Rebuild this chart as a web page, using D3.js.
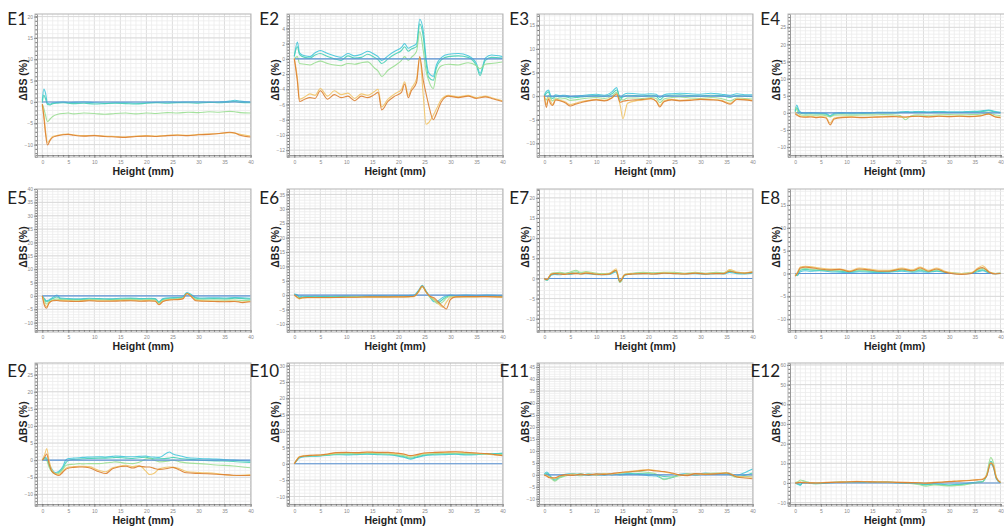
<!DOCTYPE html>
<html>
<head>
<meta charset="utf-8">
<script src="https://cdn.jsdelivr.net/npm/d3@7"></script>
<style>
    body { margin: 0; background: #fff; }
    svg { display: block; }
    .axis text { font-family: 'Liberation Sans', Arial, sans-serif; font-size: 5px; fill: #8a8a8a; }
    .axis line { stroke: #777; }
    .axis path { stroke: #999; }
    .title { font-family: Lato, 'Open Sans', sans-serif; font-size: 17px; fill: #222; }
    .label { font-family: 'Liberation Sans', Arial, sans-serif; font-size: 10.5px; font-weight: bold; fill: #222; }
</style>
</head>
<body>
<svg id="chart" width="1004" height="528"></svg>
<script>
const panelNames = ['E1', 'E2', 'E3', 'E4', 'E5', 'E6', 'E7', 'E8', 'E9', 'E10', 'E11', 'E12'];
const xTicks = [0, 5, 10, 15, 20, 25, 30, 35, 40];
const xDomain = [-1.4, 40.1];
const yTicks = [
    [-10, -5, 0, 5, 10, 15, 20],
    [-12, -10, -8, -6, -4, -2, 0, 2, 4],
    [-10, -5, 0, 5, 10, 15],
    [-10, -5, 0, 5, 10, 15, 20, 25],
    [-10, -5, 0, 5, 10, 15, 20, 25, 30, 35, 40],
    [-10, -5, 0, 5, 10, 15, 20, 25, 30, 35],
    [-10, -5, 0, 5, 10, 15, 20],
    [-10, -5, 0, 5, 10, 15],
    [-10, -5, 0, 5, 10, 15, 20, 25],
    [-10, -5, 0, 5, 10, 15, 20, 25, 30],
    [-10, -5, 0, 5, 10, 15, 20, 25, 30, 35, 40, 45],
    [-10, 0, 10, 20, 30, 40, 50, 60]
];
const yDomains = [
    [-12.9, 20.6], [-12.9, 5.9], [-12.9, 17.4], [-12.9, 28.9],
    [-13.5, 40], [-12.8, 36.9], [-13.3, 22.2], [-12.8, 18.5],
    [-13.4, 28.4], [-12.9, 30.8], [-13, 46.7], [-11.7, 61]
];

// reference scan, ΔBS = 0
const baseX = [0, 40];
const baseY = [0, 0];

// E1
const e1X = [0, 0.3, 0.6, 1, 1.5, 2, 3, 4, 5, 6, 8, 10, 12, 14, 16, 18, 20, 22, 24, 26, 28, 30, 32, 34, 36, 37, 38, 40];
const e1Cyan = [0.3, 3.0, 2.2, -0.3, -0.5, -0.2, -0.1, 0.0, -0.2, -0.1, 0.0, -0.2, -0.3, -0.2, -0.2, -0.3, -0.2, -0.1, 0.0, -0.1, 0.0, 0.0, -0.1, 0.0, 0.2, 0.4, 0.2, 0.0];
const e1Teal = [-0.2, 1.6, 0.8, -0.6, -0.7, -0.4, -0.3, -0.2, -0.3, -0.4, -0.3, -0.5, -0.4, -0.3, -0.4, -0.5, -0.3, -0.2, -0.3, -0.2, -0.2, -0.3, -0.1, -0.2, 0.0, 0.1, -0.1, -0.2];
const e1Green = [-0.5, -1.5, -3.0, -4.6, -4.0, -3.4, -2.9, -2.7, -2.6, -2.8, -2.6, -2.7, -2.9, -2.7, -2.6, -2.8, -2.6, -2.7, -2.5, -2.6, -2.4, -2.5, -2.3, -2.4, -2.2, -2.3, -2.5, -2.6];
const e1Yellow = [-0.8, -3.0, -6.5, -9.5, -8.8, -8.1, -7.8, -7.6, -7.5, -7.7, -7.9, -7.8, -8.0, -8.1, -8.2, -8.0, -7.9, -8.0, -7.8, -7.7, -7.8, -7.6, -7.5, -7.4, -7.2, -7.3, -7.6, -8.0];
const e1Orange = [-0.5, -3.5, -7.2, -10.1, -9.0, -8.3, -7.9, -7.7, -7.6, -7.8, -8.0, -7.9, -8.1, -8.2, -8.3, -8.1, -8.0, -8.1, -7.9, -7.8, -7.9, -7.7, -7.6, -7.4, -7.1, -7.3, -7.8, -8.2];

// E2
const e2X = [0, 0.6, 1, 2, 3, 4, 5, 6.4, 7.7, 9, 10.3, 11.6, 12.9, 14.1, 15.4, 16.1, 16.8, 18, 19.3, 20.6, 21.2, 21.9, 22.5, 23.5, 24.1, 24.8, 25.3, 25.8, 26.7, 27.3, 28.3, 29.6, 31.5, 33.4, 35, 35.7, 36.7, 37.9, 40];
const e2Cyan = [0.3, 2.2, 0.8, 0.4, 0.3, 0.8, 1.1, 0.7, 0.4, 0.2, 0.7, 0.4, 0.6, 1.0, 0.6, 0.3, -0.2, 0.4, 1.0, 1.5, 2.0, 1.4, 1.6, 2.0, 5.2, 3.6, 0.2, -1.8, -2.3, -0.8, 0.2, 0.6, 0.7, 0.4, -0.6, -1.9, 0.1, 0.5, 0.3];
const e2Teal = [0.4, 1.6, 0.6, 0.2, 0.1, 0.5, 0.7, 0.3, 0.0, -0.2, 0.4, 0.1, 0.2, 0.6, 0.2, -0.1, -0.6, 0.0, 0.6, 1.1, 1.6, 1.0, 1.3, 1.6, 4.6, 2.8, -0.4, -2.4, -2.8, -1.2, -0.1, 0.3, 0.4, 0.2, -0.9, -2.2, -0.2, 0.2, 0.1];
const e2Green = [0.0, 0.3, -0.6, -0.7, -0.8, -0.5, -0.3, -0.6, -0.8, -0.9, -0.6, -0.7, -0.5, -0.4, -1.2, -1.6, -2.3, -1.5, -0.9, -0.2, 0.3, -0.2, 0.2, 1.0, 3.6, 1.0, -1.5, -2.8, -3.9, -2.0, -0.9, -0.7, -0.8, -0.5, -0.9, -1.3, -0.7, -0.6, -0.4];
const e2Yellow = [0.1, -2.5, -5.3, -5.0, -4.6, -4.8, -3.9, -4.9, -4.2, -4.7, -4.5, -5.2, -4.6, -4.8, -4.3, -4.0, -6.3, -5.3, -4.6, -4.0, -3.0, -4.8, -3.9, -2.6, 0.2, -5.0, -8.6, -8.4, -7.4, -6.6, -5.3, -4.8, -5.0, -4.8, -5.1, -5.0, -4.9, -5.1, -5.5];
const e2Orange = [0.0, -3.0, -5.6, -5.3, -5.1, -5.2, -4.2, -5.3, -4.7, -5.1, -4.9, -5.5, -4.9, -5.1, -4.7, -4.4, -6.7, -5.6, -4.9, -4.4, -3.3, -5.1, -4.2, -3.1, 0.3, -2.9, -4.5, -6.0, -8.0, -7.2, -5.6, -4.9, -5.1, -4.9, -5.2, -5.1, -5.0, -5.2, -5.6];

// E3
const e3X = [0, 0.4, 0.8, 1.2, 1.6, 2.2, 3, 4, 5, 6, 7, 8.5, 10, 11.5, 13, 13.9, 14.6, 15.1, 16, 17.5, 19, 20.5, 21.5, 22.2, 23, 24.5, 26, 28, 30, 32, 34, 35.7, 37, 38.5, 40];
const e3Cyan = [0.2, 1.0, 1.3, 0.2, -0.2, 0.3, 0.1, 0.2, -0.1, 0.0, 0.1, 0.3, 0.4, 0.2, 0.9, 1.8, -0.9, 0.2, 0.6, 0.5, 0.4, 0.5, 0.4, -0.3, 0.3, 0.5, 0.6, 0.5, 0.4, 0.6, 0.4, 0.2, 0.5, 0.3, 0.3];
const e3Teal = [0.0, 0.6, 0.9, -0.2, -0.5, 0.0, -0.2, -0.1, -0.4, -0.3, -0.2, 0.0, 0.1, -0.1, 0.5, 1.3, -0.3, -0.2, 0.2, 0.1, 0.0, 0.2, 0.0, -0.8, -0.1, 0.2, 0.3, 0.1, 0.0, 0.2, 0.1, -0.3, 0.1, 0.0, -0.1];
const e3Green = [-0.1, -0.8, 0.2, -0.5, -1.0, -0.4, -0.6, -0.5, -0.9, -0.8, -0.6, -0.4, -0.3, -0.5, 0.0, 0.8, -0.6, -0.8, -0.4, -0.4, -0.5, -0.3, -0.5, -1.4, -0.6, -0.3, -0.2, -0.4, -0.5, -0.3, -0.5, -1.0, -0.4, -0.5, -0.6];
const e3Yellow = [0.0, -1.8, -0.3, -1.0, -1.8, -0.6, -0.9, -1.2, -1.8, -1.5, -1.2, -0.9, -0.7, -0.9, -0.3, 0.3, -2.0, -4.8, -1.5, -1.0, -0.8, -0.6, -1.0, -2.0, -1.0, -0.7, -0.9, -0.8, -0.6, -0.7, -0.9, -1.5, -0.6, -0.7, -0.9];
const e3Orange = [0.1, -2.4, -0.6, -1.6, -2.0, -0.8, -1.0, -1.4, -2.1, -1.7, -1.4, -1.0, -0.8, -1.0, -0.4, 0.5, -1.3, -1.1, -0.9, -0.8, -0.7, -0.5, -1.1, -2.3, -1.2, -0.8, -1.0, -0.9, -0.7, -0.8, -1.0, -1.7, -0.7, -0.8, -1.0];

// E4
const e4X = [0, 0.3, 0.7, 1.2, 2, 3, 4, 5, 6, 6.8, 7.6, 9, 11, 13, 15, 17, 19, 20.5, 21.5, 22.5, 24, 26, 28, 30, 32, 34, 36, 37.7, 39, 40];
const e4Cyan = [0.6, 2.3, 0.8, 0.1, 0.0, 0.1, 0.0, -0.1, -0.2, -0.8, -0.1, 0.1, 0.0, 0.1, 0.1, 0.2, 0.2, 0.3, 0.4, 0.3, 0.4, 0.3, 0.4, 0.3, 0.3, 0.4, 0.5, 0.8, 0.4, 0.2];
const e4Teal = [0.3, 1.5, 0.4, -0.2, -0.3, -0.2, -0.3, -0.3, -0.4, -1.1, -0.4, -0.2, -0.3, -0.2, -0.1, 0.0, 0.0, 0.1, 0.2, 0.1, 0.2, 0.1, 0.2, 0.1, 0.1, 0.2, 0.3, 0.6, 0.2, 0.0];
const e4Green = [1.5, 1.0, -0.3, -0.6, -0.7, -0.6, -0.7, -0.6, -0.8, -1.2, -0.7, -0.6, -0.7, -0.6, -0.6, -0.5, -0.6, -0.8, -2.0, -0.9, -0.6, -0.7, -0.6, -0.5, -0.6, -0.5, -0.4, 0.0, -0.6, -0.8];
const e4Yellow = [0.2, -0.3, -0.8, -1.0, -1.1, -1.0, -1.2, -1.1, -1.3, -3.0, -1.5, -1.2, -1.1, -1.3, -1.2, -1.1, -1.0, -1.1, -1.3, -1.0, -1.0, -1.1, -0.9, -1.0, -0.9, -1.0, -0.8, -0.4, -1.1, -1.2];
const e4Orange = [-0.3, -0.6, -1.0, -1.2, -1.3, -1.2, -1.4, -1.3, -1.5, -3.5, -1.8, -1.4, -1.3, -1.4, -1.3, -1.2, -1.1, -1.2, -1.2, -1.1, -1.0, -1.2, -1.0, -1.1, -1.0, -1.1, -0.9, -0.3, -1.2, -1.4];

// E5
const e5X = [0, 0.4, 0.8, 1.3, 2, 2.8, 3.5, 5, 7, 9, 11, 13, 15, 17, 19, 20.5, 21.7, 22.4, 23.2, 24.5, 26, 27, 27.8, 28.7, 29.5, 31, 33, 35, 37, 38.5, 40];
const e5Cyan = [0.0, -1.0, -1.8, -1.5, -0.6, 0.3, -0.8, -1.0, -1.1, -0.9, -1.0, -1.1, -0.9, -0.8, -1.0, -0.9, -1.0, -2.2, -1.0, -0.7, -0.6, -0.3, 1.3, 0.4, -0.6, -0.8, -0.7, -0.8, -0.6, -0.7, -0.9];
const e5Teal = [0.0, -1.3, -2.2, -1.8, -1.0, -0.4, -1.1, -1.3, -1.4, -1.2, -1.2, -1.3, -1.2, -1.0, -1.2, -1.1, -1.2, -2.5, -1.3, -0.9, -0.8, -0.5, 1.0, 0.1, -0.9, -1.1, -1.0, -1.1, -0.9, -1.0, -1.2];
const e5Green = [0.0, -1.8, -3.0, -2.2, -1.5, -1.2, -1.4, -1.5, -1.6, -1.4, -1.5, -1.6, -1.4, -1.3, -1.5, -1.4, -1.5, -2.8, -1.6, -1.2, -1.1, -0.8, 0.9, -0.1, -1.3, -1.5, -1.5, -1.6, -1.5, -1.7, -1.6];
const e5Yellow = [0.0, -2.8, -4.0, -2.5, -1.7, -1.6, -1.7, -1.8, -1.9, -1.6, -1.8, -1.8, -1.7, -1.6, -1.8, -1.7, -1.8, -3.1, -1.9, -1.4, -1.3, -1.0, 0.8, -0.3, -1.6, -1.8, -1.9, -2.0, -1.9, -2.3, -2.0];
const e5Orange = [0.0, -3.5, -4.6, -2.7, -1.8, -1.7, -1.9, -2.0, -2.1, -1.8, -2.0, -2.0, -1.9, -1.8, -2.0, -1.9, -2.0, -3.3, -2.1, -1.5, -1.4, -1.1, 0.9, -0.4, -1.8, -2.0, -2.1, -2.2, -2.1, -2.5, -2.2];

// E6
const e6X = [0, 0.5, 1, 1.5, 2.5, 4, 6, 8, 10, 12, 14, 16, 18, 20, 22, 23, 23.8, 24.6, 25.3, 26, 26.9, 27.6, 28.5, 29.2, 30, 31, 33, 35, 37, 40];
const e6Cyan = [0.4, 0.2, -0.6, -0.4, -0.5, -0.4, -0.5, -0.4, -0.3, -0.4, -0.3, -0.2, -0.3, -0.2, -0.1, 0.0, 1.5, 3.4, 1.5, -0.5, -2.3, -2.0, -0.8, -0.3, 0.0, -0.1, 0.0, -0.1, 0.0, -0.2];
const e6Teal = [0.3, 0.0, -0.8, -0.7, -0.6, -0.6, -0.6, -0.5, -0.5, -0.5, -0.4, -0.4, -0.4, -0.3, -0.3, -0.2, 1.2, 3.0, 1.3, -0.4, -1.6, -2.6, -1.5, -0.6, -0.2, -0.3, -0.2, -0.3, -0.2, -0.3];
const e6Green = [0.2, -0.5, -1.2, -0.9, -0.8, -0.8, -0.8, -0.7, -0.7, -0.6, -0.6, -0.6, -0.6, -0.5, -0.5, -0.4, 1.0, 2.9, 1.2, -0.6, -2.0, -3.0, -2.4, -1.0, -0.5, -0.6, -0.5, -0.5, -0.4, -0.6];
const e6Yellow = [0.0, -0.8, -1.3, -1.0, -0.9, -0.9, -0.9, -0.8, -0.8, -0.7, -0.7, -0.7, -0.7, -0.6, -0.6, -0.5, 0.9, 3.0, 1.1, -0.3, -1.5, -2.8, -4.2, -2.5, -0.7, -0.6, -0.6, -0.6, -0.5, -0.7];
const e6Orange = [0.1, -0.6, -1.1, -0.9, -0.8, -0.8, -0.8, -0.8, -0.7, -0.7, -0.6, -0.6, -0.6, -0.6, -0.5, -0.4, 1.1, 3.2, 1.2, -0.3, -1.0, -2.2, -3.8, -4.8, -1.5, -0.6, -0.5, -0.5, -0.5, -0.6];

// E7
const e7X = [0, 0.3, 0.6, 1.3, 2, 3, 4, 5, 6.1, 7, 8, 9.5, 11, 12.5, 13.8, 14.5, 15.5, 17, 19, 21, 23, 25, 27, 29, 31, 33, 34.5, 35.6, 37, 38.5, 40];
const e7Cyan = [0.0, -0.2, -0.5, 0.8, 1.0, 0.9, 1.1, 1.0, 1.3, 1.1, 1.2, 1.0, 0.9, 1.0, 1.6, -0.6, 0.8, 1.1, 1.2, 1.1, 1.3, 1.2, 1.1, 1.2, 1.0, 1.2, 1.1, 1.5, 1.2, 1.1, 1.3];
const e7Teal = [0.0, -0.4, -0.3, 1.0, 1.2, 1.3, 1.2, 1.4, 1.6, 1.3, 1.5, 1.2, 1.1, 1.2, 1.9, -0.9, 0.9, 1.2, 1.4, 1.3, 1.4, 1.4, 1.2, 1.4, 1.2, 1.4, 1.3, 1.8, 1.4, 1.3, 1.5];
const e7Green = [0.0, -0.3, -0.4, 1.2, 1.4, 1.5, 1.3, 1.6, 2.0, 1.5, 1.7, 1.4, 1.2, 1.3, 2.0, -1.0, 1.0, 1.3, 1.5, 1.4, 1.5, 1.5, 1.3, 1.5, 1.3, 1.5, 1.4, 2.0, 1.5, 1.4, 1.6];
const e7Yellow = [0.0, -0.2, -0.1, 1.1, 1.3, 1.2, 1.1, 1.3, 1.4, 1.2, 1.5, 1.2, 1.0, 1.2, 2.4, -0.4, 1.0, 1.2, 1.3, 1.2, 1.4, 1.3, 1.2, 1.4, 1.2, 1.3, 1.3, 2.2, 1.6, 1.4, 1.7];
const e7Orange = [0.0, -0.3, -0.2, 1.0, 1.2, 1.1, 1.0, 1.2, 1.2, 1.1, 1.3, 1.1, 0.9, 1.1, 2.0, -0.8, 0.9, 1.1, 1.2, 1.1, 1.3, 1.2, 1.1, 1.3, 1.1, 1.2, 1.2, 1.8, 1.4, 1.3, 1.5];

// E8
const e8X = [0, 0.4, 1, 2, 2.9, 4.8, 6.7, 8.7, 10.6, 12.5, 14.4, 16.3, 18.3, 20.8, 22.8, 24.4, 26, 27.6, 29.2, 30.4, 32.4, 34.3, 35.6, 36.5, 37.8, 39, 40];
const e8Cyan = [-0.3, -0.5, 0.4, 0.6, 0.5, 0.6, 0.4, 0.3, 0.2, 0.4, 0.3, 0.2, 0.3, 0.5, 0.3, 0.4, 0.3, 0.5, 0.2, 0.0, -0.1, 0.0, 0.4, 0.6, 0.1, -0.1, 0.0];
const e8Teal = [-0.2, -0.3, 0.7, 0.9, 0.8, 0.7, 0.6, 0.5, 0.4, 0.6, 0.5, 0.4, 0.4, 0.7, 0.5, 0.7, 0.4, 0.6, 0.3, 0.1, 0.0, 0.1, 0.6, 0.8, 0.2, 0.0, 0.1];
const e8Green = [-0.4, -0.2, 1.0, 1.1, 1.0, 0.9, 0.7, 0.7, 0.5, 0.8, 0.6, 0.5, 0.6, 0.9, 0.6, 0.9, 0.5, 0.8, 0.4, 0.1, 0.0, 0.1, 0.8, 1.1, 0.3, 0.0, 0.0];
const e8Yellow = [-0.5, 0.2, 1.4, 1.6, 1.5, 1.2, 1.0, 1.0, 0.6, 1.2, 1.0, 0.7, 0.7, 1.2, 0.8, 1.4, 0.7, 1.2, 0.5, 0.2, 0.0, 0.2, 1.2, 1.7, 0.4, 0.0, 0.1];
const e8Orange = [-0.6, 0.0, 1.2, 1.4, 1.3, 1.0, 0.8, 0.9, 0.4, 1.0, 0.8, 0.5, 0.5, 1.0, 0.6, 1.2, 0.5, 1.0, 0.3, 0.0, -0.2, 0.0, 1.0, 1.3, 0.3, -0.1, 0.0];

// E9
const e9X = [0, 0.5, 0.85, 1.3, 1.8, 2.5, 3.2, 3.9, 4.5, 5.1, 6, 7.1, 7.7, 9, 10.9, 12.2, 13.5, 14.1, 16.1, 17.4, 18.6, 19.9, 20.6, 21.5, 22.5, 24.4, 25.1, 26.4, 27.7, 30.2, 33.4, 36.7, 40];
const e9Cyan = [0.0, 0.8, 0.5, -1.0, -2.5, -3.6, -3.2, -2.0, 0.0, 0.5, 0.6, 0.7, 0.8, 0.9, 1.0, 0.9, 1.1, 1.2, 1.0, 1.0, 1.1, 1.2, 1.0, 0.9, 0.8, 2.4, 1.8, 1.3, 0.8, 0.5, 0.3, 0.0, -0.3];
const e9Teal = [0.0, 0.5, 0.2, -1.5, -3.0, -3.9, -3.5, -2.5, -0.8, 0.0, 0.2, 0.3, 0.4, 0.5, 0.6, 0.6, 0.7, 0.8, 0.6, 0.5, 0.7, 0.9, 0.6, 0.4, 0.4, 0.6, 0.8, 0.5, 0.3, 0.0, -0.2, -0.4, -0.7];
const e9Green = [0.0, 0.4, 0.0, -2.0, -3.3, -4.0, -3.8, -2.8, -1.6, -1.3, -1.2, -1.0, -1.1, -1.0, -1.0, -0.8, -0.6, -0.5, -0.9, -1.0, -0.6, 0.3, 0.5, 0.0, -0.5, -0.2, 0.0, -0.5, -0.8, -1.0, -1.4, -1.7, -2.2];
const e9Yellow = [0.0, 1.8, 3.4, 0.0, -2.8, -3.9, -4.2, -3.3, -2.4, -2.0, -1.9, -1.8, -1.8, -1.9, -3.0, -3.4, -2.2, -2.0, -1.5, -1.9, -1.6, -3.2, -4.2, -3.8, -2.5, -2.0, -2.1, -2.5, -3.3, -3.6, -3.9, -4.5, -4.2];
const e9Orange = [0.0, 1.0, 1.8, -1.0, -3.2, -4.1, -4.5, -3.6, -2.7, -2.3, -2.1, -2.0, -2.0, -2.2, -3.4, -3.9, -2.5, -2.2, -1.8, -2.3, -1.8, -2.0, -2.0, -2.4, -2.7, -2.3, -2.1, -2.9, -3.7, -3.9, -4.1, -4.4, -4.5];

// E10
const e10X = [0, 0.5, 1, 2, 3.5, 5, 6.5, 8, 10, 12, 14, 16, 18, 19.5, 21, 22.3, 23.5, 25, 27, 29, 31, 33, 35, 37, 38.5, 40];
const e10Cyan = [0.0, 1.0, 1.8, 2.2, 2.3, 2.4, 2.6, 2.8, 2.7, 2.8, 2.9, 2.8, 2.7, 2.5, 2.0, 1.4, 1.9, 2.5, 2.7, 2.8, 2.9, 2.7, 2.8, 3.0, 3.1, 3.3];
const e10Teal = [0.0, 1.1, 2.0, 2.3, 2.4, 2.5, 2.7, 2.9, 2.9, 3.0, 3.1, 3.0, 2.9, 2.7, 2.2, 1.7, 2.1, 2.7, 2.9, 3.0, 3.1, 2.9, 3.0, 3.1, 3.0, 3.1];
const e10Green = [0.0, 1.2, 2.1, 2.4, 2.5, 2.6, 2.8, 3.0, 3.1, 3.1, 3.2, 3.1, 3.0, 2.8, 2.5, 2.0, 2.4, 2.9, 3.1, 3.2, 3.2, 3.1, 3.0, 2.9, 2.8, 2.8];
const e10Yellow = [0.0, 1.3, 2.2, 2.5, 2.6, 2.7, 3.0, 3.3, 3.4, 3.3, 3.5, 3.4, 3.3, 3.1, 2.9, 2.4, 2.7, 3.2, 3.4, 3.5, 3.6, 3.4, 3.2, 3.0, 2.8, 2.6];
const e10Orange = [0.0, 1.2, 2.1, 2.4, 2.6, 2.7, 3.0, 3.4, 3.5, 3.4, 3.6, 3.5, 3.5, 3.3, 3.0, 2.5, 2.8, 3.3, 3.5, 3.6, 3.7, 3.5, 3.3, 3.1, 2.8, 2.5];

// E11
const e11X = [0, 0.5, 1, 2, 3, 4, 5.5, 7, 8.5, 10, 11.5, 13, 14.5, 16.5, 18, 20, 21.5, 23, 24.5, 26, 27.5, 29, 31, 33, 35, 37, 38.5, 40];
const e11Cyan = [0.3, 1.2, 0.0, -2.3, -0.8, 0.2, 0.5, -0.2, 0.4, 0.1, 0.5, 0.0, 0.3, 0.6, 0.2, -0.3, -0.5, -1.8, -1.2, 0.2, 0.5, 0.0, 0.8, 0.3, 0.9, -0.2, 0.9, 2.4];
const e11Teal = [0.0, 0.6, -0.5, -1.8, -1.0, -0.3, 0.1, 0.4, -0.2, 0.3, -0.1, 0.4, 0.0, 0.3, 0.5, 0.4, 0.1, -0.7, -0.9, -0.1, 0.2, 0.4, 0.1, 0.5, 0.4, -0.6, -0.2, 0.8];
const e11Green = [-0.2, 0.2, -0.8, -2.6, -1.2, -0.5, 0.2, -0.4, 0.3, -0.2, 0.4, 0.1, 0.6, 1.2, 1.4, 1.0, 0.4, -2.0, -1.0, -0.4, 0.3, -0.2, 0.6, 0.8, 0.5, -1.0, -0.8, -0.5];
const e11Yellow = [0.0, -0.4, -1.0, -1.5, -0.6, -0.2, 0.3, -0.1, 0.2, 0.0, 0.5, 0.4, 0.9, 1.5, 1.8, 2.2, 1.8, 1.2, 0.6, -0.2, 0.3, 0.4, 0.2, 0.6, 1.0, -0.6, -0.8, -1.0];
const e11Orange = [-0.2, -0.6, -1.2, -1.2, -0.4, 0.0, -0.2, 0.3, 0.0, 0.4, 0.2, 0.6, 1.0, 1.3, 1.6, 2.0, 1.6, 1.4, 0.8, 0.0, -0.3, 0.5, 0.3, 0.4, 0.8, -0.9, -1.3, -1.6];

// E12
const e12X = [0, 0.6, 1, 1.5, 2.5, 4, 6, 8, 10, 12, 14, 16, 18, 20, 22, 24, 25.5, 27, 28.5, 30, 31.5, 33, 34.5, 35.5, 36.5, 37.3, 38.1, 38.6, 39.2, 40];
const e12Cyan = [0.0, -0.8, -1.2, 0.5, 0.3, -0.2, 0.2, 0.4, 0.5, 0.6, 0.5, 0.4, 0.5, 0.2, 0.0, -0.3, -0.8, -0.4, -0.6, -1.0, -0.7, -0.4, 0.2, 0.5, 0.8, 3.5, 9.5, 8.0, 2.0, 0.0];
const e12Teal = [0.0, -0.5, -0.8, 0.2, 0.0, -0.4, 0.0, 0.3, 0.4, 0.5, 0.4, 0.4, 0.3, 0.1, -0.1, -0.5, -1.0, -0.6, -0.9, -1.2, -0.9, -0.6, 0.0, 0.3, 0.6, 4.0, 11.0, 9.0, 2.5, 0.1];
const e12Green = [0.2, 0.8, 1.5, 1.2, 0.4, -0.3, 0.1, 0.3, 0.5, 0.7, 0.6, 0.5, 0.4, 0.2, -0.2, -0.8, -1.6, -1.0, -1.2, -1.5, -1.3, -1.0, -0.3, 0.2, 0.5, 4.5, 12.9, 10.5, 3.0, 0.2];
const e12Yellow = [0.0, 0.3, 0.5, 0.3, 0.2, 0.1, 0.3, 0.5, 0.6, 0.8, 0.7, 0.6, 0.5, 0.4, 0.3, 0.2, 0.0, 0.3, 0.5, 0.8, 1.0, 1.2, 1.5, 1.7, 2.0, 4.0, 10.0, 9.5, 3.0, 0.3];
const e12Orange = [0.0, 0.2, 0.3, 0.2, 0.1, 0.0, 0.2, 0.4, 0.5, 0.7, 0.6, 0.5, 0.5, 0.3, 0.2, 0.1, -0.1, 0.2, 0.4, 0.7, 0.9, 1.1, 1.4, 1.6, 1.8, 3.5, 10.3, 8.5, 2.5, 0.2];

const panels = [
    { x: e1X, cyan: e1Cyan, teal: e1Teal, green: e1Green, yellow: e1Yellow, orange: e1Orange },
    { x: e2X, cyan: e2Cyan, teal: e2Teal, green: e2Green, yellow: e2Yellow, orange: e2Orange },
    { x: e3X, cyan: e3Cyan, teal: e3Teal, green: e3Green, yellow: e3Yellow, orange: e3Orange },
    { x: e4X, cyan: e4Cyan, teal: e4Teal, green: e4Green, yellow: e4Yellow, orange: e4Orange },
    { x: e5X, cyan: e5Cyan, teal: e5Teal, green: e5Green, yellow: e5Yellow, orange: e5Orange },
    { x: e6X, cyan: e6Cyan, teal: e6Teal, green: e6Green, yellow: e6Yellow, orange: e6Orange },
    { x: e7X, cyan: e7Cyan, teal: e7Teal, green: e7Green, yellow: e7Yellow, orange: e7Orange },
    { x: e8X, cyan: e8Cyan, teal: e8Teal, green: e8Green, yellow: e8Yellow, orange: e8Orange },
    { x: e9X, cyan: e9Cyan, teal: e9Teal, green: e9Green, yellow: e9Yellow, orange: e9Orange },
    { x: e10X, cyan: e10Cyan, teal: e10Teal, green: e10Green, yellow: e10Yellow, orange: e10Orange },
    { x: e11X, cyan: e11Cyan, teal: e11Teal, green: e11Green, yellow: e11Yellow, orange: e11Orange },
    { x: e12X, cyan: e12Cyan, teal: e12Teal, green: e12Green, yellow: e12Yellow, orange: e12Orange }
];

const colors = {
    cyan: '#43c7da',
    teal: '#45cfb4',
    green: '#9ade92',
    yellow: '#f2c467',
    orange: '#dc7e30',
    base: '#5a93d6'
};

// layout
const colLeft = [35, 287, 537, 788];
const colWidth = [216, 216, 216, 213];
// last column runs past the page edge, like the source image
const frameWidth = [216, 216, 216, 222];
const rowTop = [14, 189, 363];
const boxH = 143;
const titleDy = [11, 15, 14];
const yLabelMid = [80, 247, 422];

const svg = d3.select('#chart');

svg.append('rect')
    .attr('width', 1004)
    .attr('height', 528)
    .attr('fill', '#fff');

const drawPanel = (name, i) => {
    const col = i % 4;
    const row = Math.floor(i / 4);
    const left = colLeft[col];
    const top = rowTop[row];
    const boxW = colWidth[col];
    const frameW = frameWidth[col];
    const data = panels[i];

    const x = d3.scaleLinear().domain(xDomain).range([left, left + boxW]);
    const y = d3.scaleLinear().domain(yDomains[i]).range([top + boxH, top]);

    const g = svg.append('g').attr('class', 'panel');

    g.append('clipPath')
        .attr('id', `clip-${i}`)
        .append('rect')
        .attr('x', left)
        .attr('y', top)
        .attr('width', frameW)
        .attr('height', boxH);

    // grid
    const step = yTicks[i][1] - yTicks[i][0];
    const minorStep = step / 5;
    const yMinor = d3.range(Math.ceil(yDomains[i][0] / minorStep), Math.floor(yDomains[i][1] / minorStep) + 1)
        .map((k) => k * minorStep);
    const xMinor = d3.range(0, 42, 1);

    const grid = g.append('g').attr('clip-path', `url(#clip-${i})`);

    grid.selectAll('.vminor')
        .data(xMinor)
        .enter()
        .append('line')
        .attr('x1', (d) => x(d))
        .attr('x2', (d) => x(d))
        .attr('y1', top)
        .attr('y2', top + boxH)
        .attr('stroke', (d) => (d % 5 === 0 ? '#d4d4d4' : '#ececec'))
        .attr('stroke-width', 0.8);

    grid.selectAll('.hminor')
        .data(yMinor)
        .enter()
        .append('line')
        .attr('x1', left)
        .attr('x2', left + frameW)
        .attr('y1', (d) => y(d))
        .attr('y2', (d) => y(d))
        .attr('stroke', '#ececec')
        .attr('stroke-width', 0.8);

    grid.selectAll('.hmajor')
        .data(yTicks[i])
        .enter()
        .append('line')
        .attr('x1', left)
        .attr('x2', left + frameW)
        .attr('y1', (d) => y(d))
        .attr('y2', (d) => y(d))
        .attr('stroke', '#d4d4d4')
        .attr('stroke-width', 0.8);

    // axes
    g.append('g')
        .attr('class', 'axis')
        .attr('transform', `translate(0,${top + boxH - 2})`)
        .call(d3.axisBottom(x).tickValues(xMinor.filter((d) => d <= 40)).tickSize(2).tickFormat(''));

    g.append('g')
        .attr('class', 'axis')
        .attr('transform', `translate(0,${top + boxH - 2})`)
        .call(d3.axisBottom(x).tickValues(xTicks).tickSize(3).tickPadding(2))
        .call((a) => a.select('.domain').remove());

    g.append('g')
        .attr('class', 'axis')
        .attr('transform', `translate(${left + 2},0)`)
        .call(d3.axisLeft(y).tickValues(yMinor).tickSize(2).tickFormat(''));

    g.append('g')
        .attr('class', 'axis')
        .attr('transform', `translate(${left + 2},0)`)
        .call(d3.axisLeft(y).tickValues(yTicks[i]).tickSize(3).tickPadding(1))
        .call((a) => a.select('.domain').remove());

    // lines
    const line = d3.line()
        .x((d) => x(d[0]))
        .y((d) => y(d[1]))
        .curve(d3.curveMonotoneX);

    const lines = g.append('g').attr('clip-path', `url(#clip-${i})`);

    const drawSeries = (key) => {
        lines.append('path')
            .datum(d3.zip(data.x, data[key]))
            .attr('fill', 'none')
            .attr('stroke', colors[key])
            .attr('stroke-width', 1.1)
            .attr('stroke-opacity', 0.9)
            .attr('d', line);
    };

    ['cyan', 'teal', 'green'].forEach(drawSeries);

    lines.append('path')
        .datum(d3.zip(baseX, baseY))
        .attr('fill', 'none')
        .attr('stroke', colors.base)
        .attr('stroke-width', 1.1)
        .attr('d', line);

    ['yellow', 'orange'].forEach(drawSeries);

    // frame
    g.append('rect')
        .attr('x', left)
        .attr('y', top)
        .attr('width', frameW)
        .attr('height', boxH)
        .attr('fill', 'none')
        .attr('stroke', '#b3b3b3')
        .attr('stroke-width', 1);

    // texts
    g.append('text')
        .attr('class', 'title')
        .attr('x', left - 8)
        .attr('y', top + titleDy[row])
        .attr('text-anchor', 'end')
        .text(name);

    g.append('text')
        .attr('class', 'label')
        .attr('transform', `translate(${left - 12},${yLabelMid[row]}) rotate(-90)`)
        .attr('text-anchor', 'middle')
        .attr('dominant-baseline', 'central')
        .text('ΔBS (%)');

    g.append('text')
        .attr('class', 'label')
        .attr('x', left + boxW / 2)
        .attr('y', top + boxH + 18)
        .attr('text-anchor', 'middle')
        .text('Height (mm)');
};

panelNames.forEach(drawPanel);
</script>
</body>
</html>
